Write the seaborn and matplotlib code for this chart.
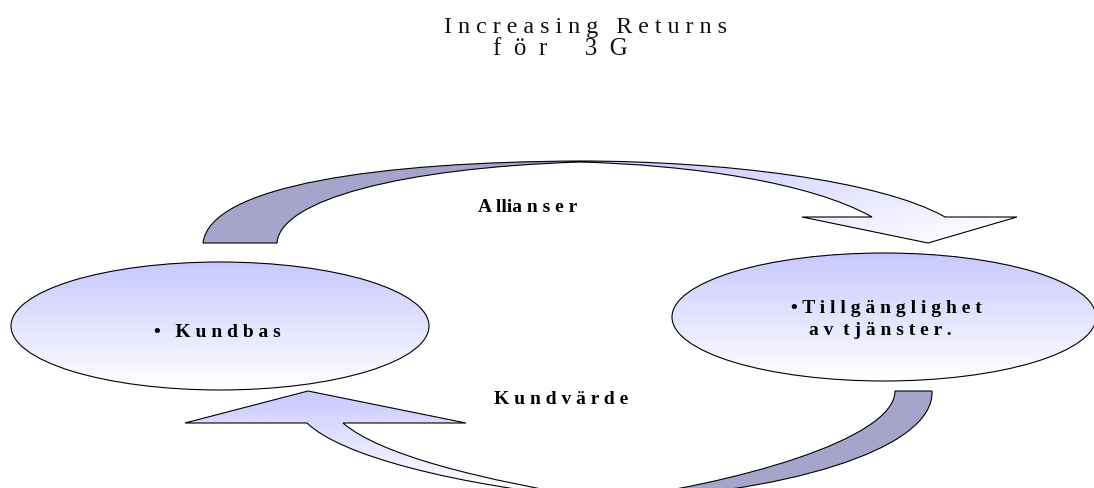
import numpy as np
import matplotlib
matplotlib.use("Agg")
import matplotlib.pyplot as plt
from matplotlib.path import Path
from matplotlib.patches import PathPatch, Ellipse
import seaborn as sns

# ---- texts drawn in the diagram ----
title_lines = ["I n c r e a s i n g   R e t u r n s", "f  ö  r      3  G"]
node_left = ["•   K u n d b a s"]
node_right = ["• T i l l g ä n g l i g h e t", "a v  t j ä n s t e r ."]
flow_labels = ["A llia n s e r", "K u n d v ä r d e"]

# ---- palette ----
dark_band = "#a5a5cc"
light_top = "#c8c8ff"
edge_col = "black"

sns.set_theme(style="white")
plt.rcParams["font.family"] = ["Liberation Serif", "DejaVu Serif"]

W, H = 1094, 488
fig = plt.figure(figsize=(W / 100, H / 100), dpi=100)
ax = fig.add_axes([0, 0, 1, 1])
ax.set_xlim(0, W)
ax.set_ylim(H, 0)
ax.axis("off")

fade = sns.blend_palette([light_top, "#ffffff"], n_colors=256, as_cmap=True)


def gradient_fill(patch, bbox, tfunc, cmap, zorder=2):
    x0, y0, x1, y1 = bbox
    xs = np.linspace(x0, x1, 200)
    ys = np.linspace(y0, y1, 200)
    X, Y = np.meshgrid(xs, ys)
    t = np.clip(tfunc(X, Y), 0, 1)
    im = ax.imshow(cmap(t), extent=(x0, x1, y1, y0), origin="upper",
                   interpolation="bilinear", aspect="auto", zorder=zorder)
    im.set_clip_path(patch)
    return im


def solid_band(verts, codes, color):
    p = PathPatch(Path(verts, codes), facecolor=color, edgecolor=edge_col,
                  lw=0.8, zorder=3)
    ax.add_patch(p)
    return p


def faded_band(verts, codes, bbox, tfunc):
    p = PathPatch(Path(verts, codes), facecolor="none", edgecolor=edge_col,
                  lw=0.8, zorder=3)
    ax.add_patch(p)
    gradient_fill(p, bbox, tfunc, fade)
    return p


M, C, L, Z = Path.MOVETO, Path.CURVE4, Path.LINETO, Path.CLOSEPOLY

# ---- upper arrow: dark back half rising from the left ----
solid_band(
    [(203, 243), (210, 185), (380, 162), (580, 161),
     (580, 162), (400, 168), (280, 200), (277, 243), (203, 243)],
    [M, C, C, C, L, C, C, C, Z], dark_band)

# ---- upper arrow: light front half with its head ----
faded_band(
    [(580, 161), (720, 161), (880, 180), (945, 217),
     (1017, 217), (928, 243), (802, 217), (872, 217),
     (810, 182), (690, 165), (580, 162), (580, 161)],
    [M, C, C, C, L, L, L, L, C, C, C, Z],
    (570, 155, 1025, 250),
    lambda x, y: 0.5 * (x - 580) / 400 + 0.5 * (y - 161) / 82)

# ---- lower arrow: dark tail coming down on the right ----
solid_band(
    [(605, 500), (730, 485), (895, 440), (895, 391),
     (932, 391), (935, 450), (780, 495), (605, 500), (605, 500)],
    [M, C, C, C, L, C, C, C, Z], dark_band)

# ---- lower arrow: light half with the head pointing up ----
faded_band(
    [(605, 500), (480, 480), (380, 455), (343, 423),
     (466, 423), (308, 391), (185, 423), (307, 423),
     (340, 455), (450, 485), (605, 500), (605, 500)],
    [M, C, C, C, L, L, L, L, C, C, C, Z],
    (180, 385, 610, 505),
    lambda x, y: (y - 391) / 100)

# ---- the two nodes ----
for (cx, cy, w, h) in [(220, 326, 418, 128), (884, 317, 424, 128)]:
    e = Ellipse((cx, cy), w, h, facecolor="none", edgecolor=edge_col,
                lw=0.8, zorder=4)
    ax.add_patch(e)
    top = cy - h / 2
    gradient_fill(e, (cx - w / 2, top, cx + w / 2, cy + h / 2),
                  lambda x, y, top=top, h=h: (y - top) / h, fade, zorder=3.5)

# ---- texts ----
title_kw = dict(color="#111111", ha="center", va="baseline")
ax.text(585, 33, title_lines[0], fontsize=17.3, **title_kw)
ax.text(560, 55, title_lines[1], fontsize=18, **title_kw)

bold_kw = dict(fontsize=14, fontweight="bold", color="black", zorder=6,
               ha="center", va="baseline")
ax.text(217, 337, node_left[0], **bold_kw)
ax.text(886, 313, node_right[0], **bold_kw)
ax.text(880, 335, node_right[1], **bold_kw)
ax.text(528, 212, flow_labels[0], **bold_kw)
ax.text(561, 404, flow_labels[1], **bold_kw)

fig.savefig("out.png", dpi=100)
